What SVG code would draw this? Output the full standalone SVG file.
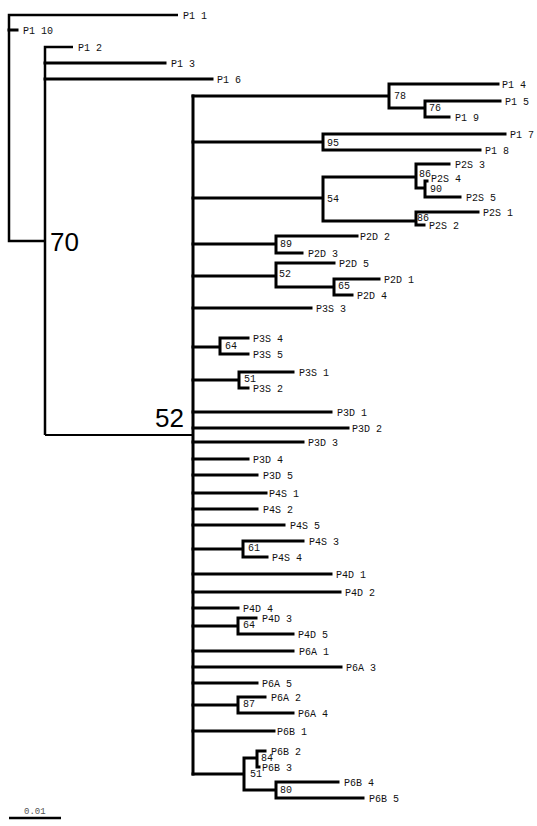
<svg xmlns="http://www.w3.org/2000/svg" width="537" height="826" viewBox="0 0 537 826">
<style>
.br{fill:none;stroke:#000;stroke-width:3;stroke-linecap:square;stroke-linejoin:miter}
.out{fill:none;stroke:#000;stroke-width:2.5;stroke-linecap:butt;stroke-linejoin:miter}
.thin{fill:none;stroke:#000;stroke-width:2;stroke-linecap:butt;stroke-linejoin:miter}
.lf{font-family:"Liberation Mono","DejaVu Sans Mono",monospace;font-size:10px;fill:#111}
.bs{font-family:"Liberation Mono","DejaVu Sans Mono",monospace;font-size:10px;fill:#111}
.big{font-family:"Liberation Sans",Arial,sans-serif;font-size:26px;fill:#000}
.sc{font-family:"Liberation Mono","DejaVu Sans Mono",monospace;font-size:9px;fill:#555}
</style>
<rect width="537" height="826" fill="#fff"/>
<g id="connectors">
<path class="out" d="M178,15 H9 V241 H45 M73,47 H45 V435"/>
<path class="thin" d="M45,435 H193"/>
<path class="br" d="M9,30 H17 M45,63 H165 M45,79 H212"/>
<path class="br" d="M193,96 V774"/>
<path class="br" d="M193,96 H389 M389,84 V108 M389,84 H498 M389,108 H425 M425,101 V117 M425,101 H500 M425,117 H449"/>
<path class="br" d="M193,142 H323 M323,134 V150 M323,134 H505 M323,150 H480"/>
<path class="br" d="M193,198 H323 M323,177 V221 M323,177 H416 M416,164 V188 M416,164 H449 M416,188 H425 M425,181 V197 M425,181 H427 M425,197 H460 M323,221 H416 M416,212 V225 M416,212 H478 M416,225 H424"/>
<path class="br" d="M193,244 H276 M276,236 V253 M276,236 H357 M276,253 H302"/>
<path class="br" d="M193,276 H276 M276,263 V287 M276,263 H334 M276,287 H334 M334,279 V295 M334,279 H379 M334,295 H352"/>
<path class="br" d="M193,308 H311"/>
<path class="br" d="M193,347 H220 M220,338 V354 M220,338 H248 M220,354 H248"/>
<path class="br" d="M193,380 H239 M239,372 V388 M239,372 H293 M239,388 H248"/>
<path class="br" d="M193,412 H331 M193,428 H348 M193,442 H303 M193,459 H248 M193,475 H257 M193,493 H266 M193,509 H257 M193,525 H284"/>
<path class="br" d="M193,549 H243 M243,541 V557 M243,541 H303 M243,557 H267"/>
<path class="br" d="M193,574 H331 M193,592 H340 M193,608 H238"/>
<path class="br" d="M193,626 H238 M238,618 V634 M238,618 H256 M238,634 H293"/>
<path class="br" d="M193,651 H293 M193,667 H341 M193,683 H257"/>
<path class="br" d="M193,705 H238 M238,697 V713 M238,697 H265 M238,713 H293"/>
<path class="br" d="M193,731 H274"/>
<path class="br" d="M193,774 H244 M244,758 V790 M244,758 H257 M257,751 V767 M257,751 H265 M257,767 H259 M244,790 H276 M276,782 V798 M276,782 H338 M276,798 H363"/>
</g>
<g id="leaf-P1-1"><text class="lf" x="183" y="18.5">P1 1</text></g>
<g id="leaf-P1-10"><text class="lf" x="23" y="33.5">P1 10</text></g>
<g id="leaf-P1-2"><text class="lf" x="78" y="50.5">P1 2</text></g>
<g id="leaf-P1-3"><text class="lf" x="171" y="66.5">P1 3</text></g>
<g id="leaf-P1-6"><text class="lf" x="217" y="82.5">P1 6</text></g>
<g id="leaf-P1-4"><text class="lf" x="502" y="87.5">P1 4</text></g>
<g id="leaf-P1-5"><text class="lf" x="505" y="104.5">P1 5</text></g>
<g id="leaf-P1-9"><text class="lf" x="455" y="120.5">P1 9</text></g>
<g id="leaf-P1-7"><text class="lf" x="510" y="137.5">P1 7</text></g>
<g id="leaf-P1-8"><text class="lf" x="485" y="153.5">P1 8</text></g>
<g id="leaf-P2S-3"><text class="lf" x="455" y="167.5">P2S 3</text></g>
<g id="leaf-P2S-4"><text class="lf" x="431" y="181.5">P2S 4</text></g>
<g id="leaf-P2S-5"><text class="lf" x="466" y="200.5">P2S 5</text></g>
<g id="leaf-P2S-1"><text class="lf" x="483" y="215.5">P2S 1</text></g>
<g id="leaf-P2S-2"><text class="lf" x="429" y="229">P2S 2</text></g>
<g id="leaf-P2D-2"><text class="lf" x="360" y="239.5">P2D 2</text></g>
<g id="leaf-P2D-3"><text class="lf" x="308" y="256.5">P2D 3</text></g>
<g id="leaf-P2D-5"><text class="lf" x="339" y="266.5">P2D 5</text></g>
<g id="leaf-P2D-1"><text class="lf" x="384" y="282.5">P2D 1</text></g>
<g id="leaf-P2D-4"><text class="lf" x="357" y="298.5">P2D 4</text></g>
<g id="leaf-P3S-3"><text class="lf" x="316" y="311.5">P3S 3</text></g>
<g id="leaf-P3S-4"><text class="lf" x="253" y="341.5">P3S 4</text></g>
<g id="leaf-P3S-5"><text class="lf" x="253" y="357.5">P3S 5</text></g>
<g id="leaf-P3S-1"><text class="lf" x="299" y="375.5">P3S 1</text></g>
<g id="leaf-P3S-2"><text class="lf" x="253" y="391.5">P3S 2</text></g>
<g id="leaf-P3D-1"><text class="lf" x="337" y="415.5">P3D 1</text></g>
<g id="leaf-P3D-2"><text class="lf" x="352" y="431.5">P3D 2</text></g>
<g id="leaf-P3D-3"><text class="lf" x="308" y="445.5">P3D 3</text></g>
<g id="leaf-P3D-4"><text class="lf" x="253" y="462.5">P3D 4</text></g>
<g id="leaf-P3D-5"><text class="lf" x="263" y="478.5">P3D 5</text></g>
<g id="leaf-P4S-1"><text class="lf" x="269" y="496.5">P4S 1</text></g>
<g id="leaf-P4S-2"><text class="lf" x="263" y="512.5">P4S 2</text></g>
<g id="leaf-P4S-5"><text class="lf" x="290" y="528.5">P4S 5</text></g>
<g id="leaf-P4S-3"><text class="lf" x="309" y="544.5">P4S 3</text></g>
<g id="leaf-P4S-4"><text class="lf" x="272" y="560.5">P4S 4</text></g>
<g id="leaf-P4D-1"><text class="lf" x="336" y="577.5">P4D 1</text></g>
<g id="leaf-P4D-2"><text class="lf" x="345" y="595.5">P4D 2</text></g>
<g id="leaf-P4D-4"><text class="lf" x="243" y="611.5">P4D 4</text></g>
<g id="leaf-P4D-3"><text class="lf" x="262" y="621.5">P4D 3</text></g>
<g id="leaf-P4D-5"><text class="lf" x="298" y="637.5">P4D 5</text></g>
<g id="leaf-P6A-1"><text class="lf" x="299" y="654.5">P6A 1</text></g>
<g id="leaf-P6A-3"><text class="lf" x="346" y="670.5">P6A 3</text></g>
<g id="leaf-P6A-5"><text class="lf" x="262" y="686.5">P6A 5</text></g>
<g id="leaf-P6A-2"><text class="lf" x="271" y="700.5">P6A 2</text></g>
<g id="leaf-P6A-4"><text class="lf" x="298" y="716.5">P6A 4</text></g>
<g id="leaf-P6B-1"><text class="lf" x="277" y="734.5">P6B 1</text></g>
<g id="leaf-P6B-2"><text class="lf" x="271" y="754.5">P6B 2</text></g>
<g id="leaf-P6B-3"><text class="lf" x="262" y="770.5">P6B 3</text></g>
<g id="leaf-P6B-4"><text class="lf" x="344" y="785.5">P6B 4</text></g>
<g id="leaf-P6B-5"><text class="lf" x="369" y="801.5">P6B 5</text></g>
<g id="node-70"><text class="big" x="50" y="251">70</text></g>
<g id="node-52-main"><text class="big" x="155" y="427">52</text></g>
<g id="node-78"><text class="bs" x="394" y="99">78</text></g>
<g id="node-76"><text class="bs" x="429" y="111">76</text></g>
<g id="node-95"><text class="bs" x="327" y="146">95</text></g>
<g id="node-54"><text class="bs" x="327" y="202">54</text></g>
<g id="node-86a"><text class="bs" x="419" y="177">86</text></g>
<g id="node-90"><text class="bs" x="430" y="191.5">90</text></g>
<g id="node-86b"><text class="bs" x="417" y="220.5">86</text></g>
<g id="node-89"><text class="bs" x="280" y="247">89</text></g>
<g id="node-52b"><text class="bs" x="279" y="277">52</text></g>
<g id="node-65"><text class="bs" x="338" y="289">65</text></g>
<g id="node-64a"><text class="bs" x="225" y="349">64</text></g>
<g id="node-51a"><text class="bs" x="244" y="382">51</text></g>
<g id="node-61"><text class="bs" x="248" y="551">61</text></g>
<g id="node-64b"><text class="bs" x="243" y="628">64</text></g>
<g id="node-87"><text class="bs" x="243" y="707">87</text></g>
<g id="node-84"><text class="bs" x="261" y="761">84</text></g>
<g id="node-51b"><text class="bs" x="250" y="777">51</text></g>
<g id="node-80"><text class="bs" x="280" y="793">80</text></g>
<g id="scale-bar">
<text class="sc" x="24" y="814">0.01</text>
<line x1="9" y1="818" x2="61" y2="818" stroke="#000" stroke-width="2.5"/>
</g>
</svg>
